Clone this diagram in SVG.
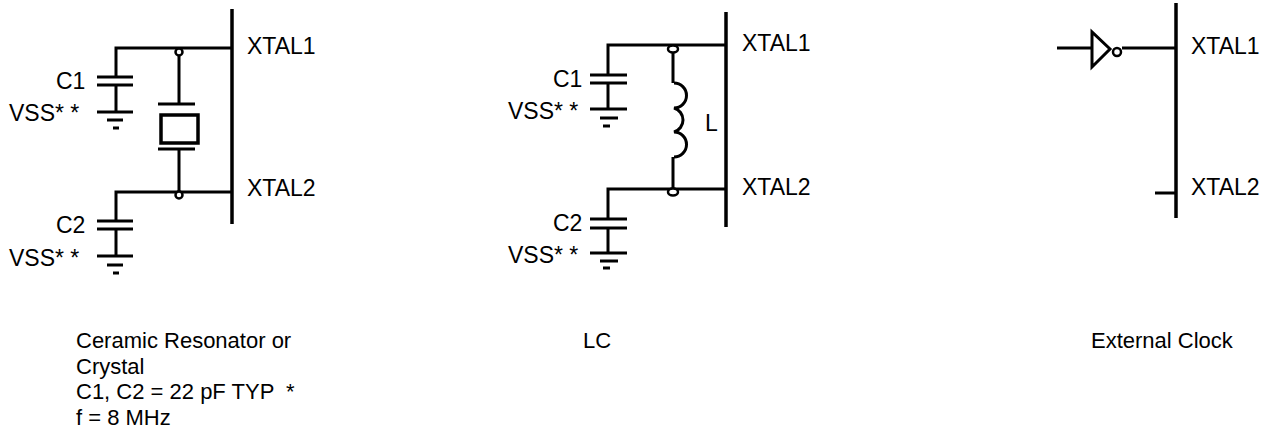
<svg xmlns="http://www.w3.org/2000/svg" width="1265" height="436" viewBox="0 0 1265 436">
<style>
.w{fill:none;stroke:#000;stroke-width:3}
.b{fill:none;stroke:#000;stroke-width:3.5}
.g{fill:none;stroke:#000;stroke-width:3}
.dot{fill:#fff;stroke:#000;stroke-width:2.5}
text{font-family:"Liberation Sans",Arial,sans-serif;font-size:23px;fill:#000}
.cap{font-size:22px}
</style>
<rect width="1265" height="436" fill="#fff"/>
<g id="connectors">
<path class="w" d="M116 77V48H232"/>
<path class="w" d="M179 48V104M179 149V192"/>
<path class="w" d="M116 221V192H232"/>
<path class="w" d="M116 85V112M116 229V256"/>
<path class="w" d="M608 75V45H726"/>
<path class="w" d="M608 219V189H726"/>
<path class="w" d="M608 83V109M608 228V253"/>
<path class="w" d="M673 45V83M673 157V189"/>
<path class="w" d="M1057 48H1092M1122 48H1176"/>
<path class="w" d="M1155 193H1176"/>
</g>
<g id="left">
<path class="b" d="M232 9V224"/>
<g id="left-c1"><path class="g" d="M97 77H133M97 85H133"/><text x="56" y="89">C1</text></g>
<g id="left-gnd1"><path class="g" d="M97 112H133M107 120H123M113 128H119"/><text x="9" y="121">VSS* *</text></g>
<g id="left-crystal"><path class="g" d="M158 104H195M158 149H195"/><rect x="161" y="115" width="37" height="28" fill="none" stroke="#000" stroke-width="3.5"/></g>
<g id="left-c2"><path class="g" d="M97 221H133M97 229H133"/><text x="56" y="233">C2</text></g>
<g id="left-gnd2"><path class="g" d="M97 256H133M107 265H123M113 273H119"/><text x="9" y="266">VSS* *</text></g>
<circle class="dot" cx="179" cy="52" r="3.5"/>
<circle class="dot" cx="179" cy="195" r="3.5"/>
<text x="247" y="54">XTAL1</text>
<text x="247" y="196">XTAL2</text>
</g>
<g id="middle">
<path class="b" d="M726 12V227"/>
<g id="mid-c1"><path class="g" d="M590 75H627M590 83H627"/><text x="553" y="87">C1</text></g>
<g id="mid-gnd1"><path class="g" d="M590 109H627M600 118H618M603 126H610"/><text x="508" y="119">VSS* *</text></g>
<g id="mid-l"><path class="g" d="M674 83A12.5 12.5 0 0 1 674 108A12.5 12.5 0 0 1 674 132A12.5 12.5 0 0 1 674 157"/><text x="705" y="131">L</text></g>
<g id="mid-c2"><path class="g" d="M590 219H627M590 228H627"/><text x="553" y="231">C2</text></g>
<g id="mid-gnd2"><path class="g" d="M590 253H627M600 261H618M603 268H610"/><text x="508" y="263">VSS* *</text></g>
<ellipse class="dot" cx="673" cy="49" rx="5" ry="3.5"/>
<ellipse class="dot" cx="673" cy="192" rx="5" ry="3.5"/>
<text x="742" y="51">XTAL1</text>
<text x="742" y="195">XTAL2</text>
</g>
<g id="right">
<path class="b" d="M1176 3V218"/>
<g id="inverter"><path class="g" d="M1092 32V67L1110 49Z" stroke-linejoin="miter"/><circle class="dot" cx="1117" cy="52" r="4"/></g>
<text x="1191" y="54">XTAL1</text>
<text x="1191" y="195">XTAL2</text>
</g>
<g id="captions">
<text class="cap" x="76" y="348">Ceramic Resonator or</text>
<text class="cap" x="76" y="373.5">Crystal</text>
<text class="cap" x="76" y="399">C1, C2 = 22 pF TYP <tspan dx="6">*</tspan></text>
<text class="cap" x="76" y="424.5">f = 8 MHz</text>
<text class="cap" x="583" y="348">LC</text>
<text class="cap" x="1091" y="348">External Clock</text>
</g>
</svg>
